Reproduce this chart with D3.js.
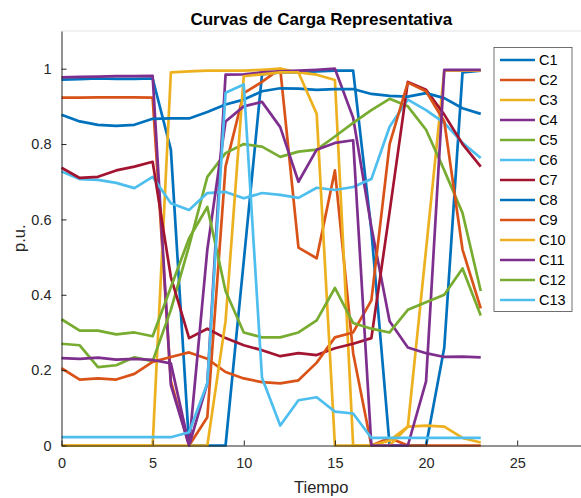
<!DOCTYPE html>
<html>
<head>
<meta charset="utf-8">
<script src="https://cdn.jsdelivr.net/npm/d3@7"></script>
<style>
  html, body { margin: 0; padding: 0; background: #fff; overflow: hidden; }
  svg { display: block; font-family: "Liberation Sans", Arial, sans-serif; }
</style>
</head>
<body>
<svg id="chart" width="581" height="498"></svg>
<script>
// Hourly load profiles (p.u.), hours 0..23
const hours = d3.range(24);
const seriesNames = ["C1","C2","C3","C4","C5","C6","C7","C8","C9","C10","C11","C12","C13"];
const seriesColors = ["#0072BD","#D95319","#EDB120","#7E2F8E","#77AC30","#4DBEEE","#A2142F",
                      "#0072BD","#D95319","#EDB120","#7E2F8E","#77AC30","#4DBEEE"];

const c1  = [0.971,0.972,0.974,0.973,0.973,0.974,0.785,0,0,0,0.49,0.985,0.99,0.99,0.993,0.995,0.995,0.57,0,0,0,0.26,0.99,0.995];
const c2  = [0.923,0.923,0.924,0.924,0.924,0.923,0.17,0,0.075,0.74,0.935,0.965,1.0,0.525,0.497,0.73,0.245,0,0.02,0,0,0,0,0];
const c3  = [0,0,0,0,0,0,0.99,0.993,0.995,0.995,0.995,0.997,1.0,0.99,0.984,0.97,0,0,0,0.05,0.52,0.995,0.995,0.995];
const c4  = [0.977,0.978,0.979,0.98,0.98,0.981,0.16,0,0.165,0.984,0.985,0.99,0.993,0.995,0.997,1.0,0.87,0.58,0.33,0.26,0.245,0.235,0.236,0.234];
const c5  = [0.27,0.266,0.208,0.213,0.234,0.224,0.36,0.53,0.713,0.776,0.80,0.793,0.766,0.78,0.785,0.82,0.856,0.89,0.92,0.90,0.838,0.73,0.617,0.41];
const c6  = [0.727,0.707,0.705,0.697,0.683,0.713,0.643,0.625,0.67,0.673,0.656,0.67,0.665,0.657,0.684,0.678,0.686,0.707,0.846,0.918,0.89,0.856,0.803,0.763];
const c7  = [0.737,0.71,0.713,0.73,0.74,0.753,0.447,0.285,0.31,0.285,0.266,0.253,0.237,0.245,0.24,0.258,0.27,0.285,0.62,0.965,0.944,0.878,0.80,0.74];
const c8  = [0.878,0.86,0.851,0.848,0.851,0.867,0.868,0.868,0.885,0.905,0.918,0.94,0.948,0.947,0.944,0.946,0.946,0.933,0.928,0.926,0.935,0.922,0.895,0.88];
const c9  = [0.205,0.175,0.178,0.175,0.19,0.222,0.235,0.247,0.23,0.195,0.178,0.168,0.165,0.173,0.22,0.287,0.30,0.385,0.8,0.963,0.94,0.86,0.52,0.364];
const c10 = [0,0,0,0,0,0,0,0,0,0.33,0.98,0.985,0.99,0.99,0.88,0,0,0,0.013,0.05,0.053,0.05,0.02,0.008];
const c11 = [0.232,0.23,0.233,0.228,0.23,0.227,0.218,0,0.52,0.86,0.90,0.912,0.845,0.70,0.785,0.803,0.81,0,0,0,0.17,0.997,0.997,0.997];
const c12 = [0.335,0.305,0.305,0.295,0.30,0.29,0.42,0.55,0.633,0.41,0.30,0.287,0.287,0.30,0.332,0.418,0.325,0.31,0.30,0.36,0.38,0.40,0.47,0.345];
const c13 = [0.022,0.022,0.022,0.022,0.022,0.022,0.022,0.035,0.165,0.936,0.958,0.18,0.053,0.12,0.128,0.09,0.085,0.02,0.02,0.02,0.02,0.02,0.02,0.02];

const seriesValues = [c1,c2,c3,c4,c5,c6,c7,c8,c9,c10,c11,c12,c13];

const xTicks = [0,5,10,15,20,25];
const yTicks = [0,0.2,0.4,0.6,0.8,1];
const yTickLabels = ["0","0.2","0.4","0.6","0.8","1"];

const titleText = "Curvas de Carga Representativa";
const xLabel = "Tiempo";
const yLabel = "p.u.";

// Layout of the axes box
const plotLeft = 61.5, plotRight = 581, plotTop = 31, plotBottom = 445.5;
const svg = d3.select("#chart");

const x = d3.scaleLinear().domain([0, 28.5]).range([plotLeft, plotRight]);
const y = d3.scaleLinear().domain([0, 1.1]).range([plotBottom, plotTop]);

const axisColor = "#262626";

// Top border of the axes box
svg.append("line")
  .attr("x1", plotLeft).attr("x2", plotRight).attr("y1", plotTop).attr("y2", plotTop)
  .attr("stroke", "#e3e3e3").attr("stroke-width", 1);

// Series lines
const line = d3.line().x((d, i) => x(hours[i])).y(d => y(d));
const plot = svg.append("g");
seriesValues.forEach((vals, k) => {
  plot.append("path")
    .datum(vals)
    .attr("d", line)
    .attr("fill", "none")
    .attr("stroke", seriesColors[k])
    .attr("stroke-width", 2.7)
    .attr("stroke-linejoin", "round");
});

// Axes (ticks pointing inward)
const xAxis = d3.axisBottom(x).tickValues(xTicks).tickSizeInner(-5).tickSizeOuter(0).tickPadding(10);
const yAxis = d3.axisLeft(y).tickValues(yTicks).tickFormat((d, i) => yTickLabels[i])
  .tickSizeInner(-5).tickSizeOuter(0).tickPadding(10);

const gx = svg.append("g").attr("transform", `translate(0,${plotBottom})`).call(xAxis);
const gy = svg.append("g").attr("transform", `translate(${plotLeft},0)`).call(yAxis);

[gx, gy].forEach(g => {
  g.select(".domain").attr("stroke", axisColor).attr("stroke-width", 1);
  g.selectAll(".tick line").attr("stroke", axisColor).attr("stroke-width", 1);
  g.selectAll(".tick text")
    .attr("fill", axisColor)
    .style("font-family", "'Liberation Sans', Arial, sans-serif")
    .style("font-size", "14.5px");
});
gx.selectAll(".tick text").attr("dy", "0.71em").attr("y", 12);

// Title
svg.append("text")
  .attr("x", (plotLeft + plotRight) / 2).attr("y", 25)
  .attr("text-anchor", "middle")
  .attr("font-weight", "bold").attr("font-size", 17)
  .attr("fill", "#000")
  .text(titleText);

// Axis labels
svg.append("text")
  .attr("x", (plotLeft + plotRight) / 2).attr("y", 493)
  .attr("text-anchor", "middle").attr("font-size", 16.5)
  .attr("fill", axisColor)
  .text(xLabel);

svg.append("text")
  .attr("transform", `translate(25,${(plotTop + plotBottom) / 2}) rotate(-90)`)
  .attr("text-anchor", "middle").attr("font-size", 16.5)
  .attr("fill", axisColor)
  .text(yLabel);

// Legend
const legX = 494, legY = 47.5, legW = 78, rowH = 20;
const legend = svg.append("g");
legend.append("rect")
  .attr("x", legX).attr("y", legY)
  .attr("width", legW).attr("height", rowH * seriesNames.length + 4)
  .attr("fill", "#fff").attr("stroke", "#4d4d4d").attr("stroke-width", 0.8);

seriesNames.forEach((name, i) => {
  const cy = legY + 12.5 + i * rowH;
  legend.append("line")
    .attr("x1", legX + 6).attr("x2", legX + 41)
    .attr("y1", cy).attr("y2", cy)
    .attr("stroke", seriesColors[i]).attr("stroke-width", 2.7);
  legend.append("text")
    .attr("x", legX + 45).attr("y", cy + 5)
    .attr("font-size", 14.5).attr("fill", "#000")
    .text(name);
});
</script>
</body>
</html>
